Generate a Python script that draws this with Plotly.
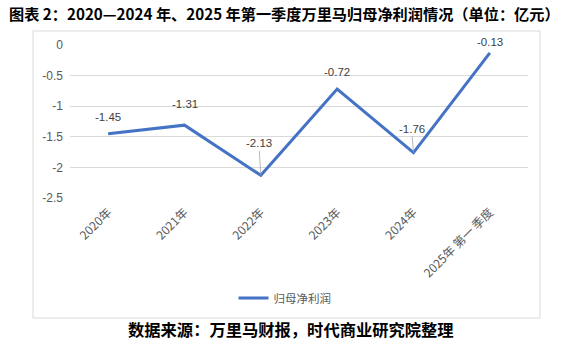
import plotly.graph_objects as go

categories = ["2020年", "2021年", "2022年", "2023年", "2024年", "2025年 第一 季度"]
values = [-1.45, -1.31, -2.13, -0.72, -1.76, -0.13]
series_name = "归母净利润"
y_ticks = [0, -0.5, -1, -1.5, -2, -2.5]
y_ticklabels = ["0", "-0.5", "-1", "-1.5", "-2", "-2.5"]
title_text = "图表 2：2020—2024 年、2025 年第一季度万里马归母净利润情况（单位：亿元）"
source_text = "数据来源：万里马财报，时代商业研究院整理"

W, H = 576, 349
L, R, T, B = 70, 48, 45, 151
pw, ph = W - L - R, H - T - B

def px(x):
    return (x - L) / pw

def py(y):
    return (H - B - y) / ph

fig = go.Figure()
fig.add_trace(go.Scatter(
    x=categories, y=values, mode="lines", name=series_name,
    line=dict(color="#4472C4", width=3),
))

# data labels (offsets in pixels)
label_offsets = [(0, -17, False), (0, -21, False), (-2, -32, True), (0, -17, False), (-2, -24, True), (0, -11, False)]
annotations = []
for c, v, (dx, dy, leader) in zip(categories, values, label_offsets):
    if leader:
        annotations.append(dict(x=c, y=v, xref="x", yref="y", text=f"{v:.2f}",
                                showarrow=True, arrowhead=0, arrowwidth=0.8, arrowcolor="#A6A6A6",
                                ax=dx, ay=dy, font=dict(size=11.5, color="#404040", family="Liberation Sans, Arial")))
    else:
        annotations.append(dict(x=c, y=v, xref="x", yref="y", text=f"{v:.2f}", showarrow=False,
                                yshift=-dy, font=dict(size=11.5, color="#404040", family="Liberation Sans, Arial")))

annotations.append(dict(x=px(7), y=py(13), xref="paper", yref="paper", xanchor="left", yanchor="middle",
                        text="<b>" + title_text + "</b>", showarrow=False,
                        font=dict(size=15.2, color="#000000", family="Noto Sans CJK SC")))
annotations.append(dict(x=px(291), y=py(329), xref="paper", yref="paper", xanchor="center", yanchor="middle",
                        text="<b>" + source_text + "</b>", showarrow=False,
                        font=dict(size=16.3, color="#000000", family="Noto Sans CJK SC")))

shapes = [dict(type="rect", xref="paper", yref="paper", x0=px(33), x1=px(540), y0=py(318), y1=py(31),
               line=dict(color="#D9D9D9", width=1), fillcolor="rgba(0,0,0,0)", layer="below")]

fig.update_layout(
    width=W, height=H, margin=dict(l=L, r=R, t=T, b=B),
    paper_bgcolor="white", plot_bgcolor="white",
    showlegend=True,
    legend=dict(x=px(285), y=py(298), xanchor="center", yanchor="middle", orientation="h",
                font=dict(size=11.5, color="#595959", family="Noto Sans CJK SC"), bgcolor="rgba(0,0,0,0)",
                itemwidth=30),
    xaxis=dict(type="category", showgrid=False, showline=False, ticks="", tickangle=-45,
               ticklabelstandoff=4,
               tickfont=dict(size=12, color="#595959", family="Noto Sans CJK SC, Liberation Sans"),
               range=[-0.5, 5.5], fixedrange=True),
    yaxis=dict(range=[-2.5, 0], tickvals=y_ticks, ticktext=y_ticklabels, showgrid=True,
               gridcolor="#D9D9D9", gridwidth=1, zeroline=False, showline=False, ticks="",
               ticklabelstandoff=6,
               tickfont=dict(size=12, color="#595959", family="Liberation Sans, Arial")),
    annotations=annotations,
    shapes=shapes,
)

fig.write_html("out.html")
